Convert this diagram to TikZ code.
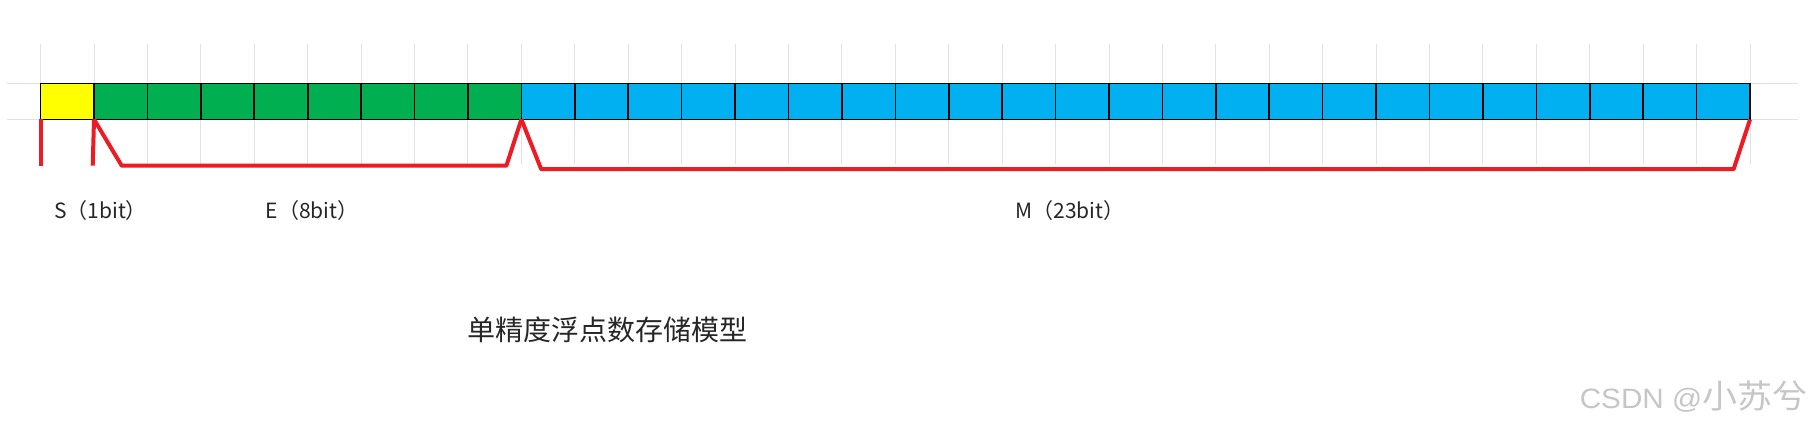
\documentclass[tikz,border=0pt]{standalone}
\usepackage{fontspec}
\setmainfont{Noto Sans CJK SC}
\newfontfamily\wmfont{Liberation Sans}
\definecolor{signyellow}{HTML}{FFFF00}
\definecolor{expgreen}{HTML}{00B050}
\definecolor{manblue}{HTML}{00B0F0}
\definecolor{bracered}{HTML}{ED1C24}
\definecolor{gridgray}{HTML}{E2E2E2}
\tikzset{
  bitcell/.style={draw=black, line width=1.6pt, minimum width=53.42pt,
    minimum height=36pt, inner sep=0pt, outer sep=0pt},
  gridline/.style={draw=gridgray, line width=1pt},
  brace/.style={draw=bracered, line width=4pt, line join=round},
  bitlabel/.style={inner sep=0pt, font=\fontsize{21}{25}\selectfont, text=black!85}
}

\begin{document}
\begin{tikzpicture}[x=1pt, y=-1pt]
\useasboundingbox (0,0) rectangle (1817,432);

% light grid behind the word
\foreach \k in {0,...,32}
  \draw[gridline] ({40.6+\k*53.42},44) -- ({40.6+\k*53.42},164);
\draw[gridline] (7,83.4) -- (1798,83.4) (7,119.4) -- (1798,119.4);

% the 32 bits
\node[bitcell, fill=signyellow] (b1) at (67.31,101.4) {};
\foreach \i in {2,...,9}
  \node[bitcell, fill=expgreen] (b\i) at ({40.6+(\i-0.5)*53.42},101.4) {};
\foreach \i in {10,...,32}
  \node[bitcell, fill=manblue] (b\i) at ({40.6+(\i-0.5)*53.42},101.4) {};

% red brackets
\coordinate (sFoot) at (40.6,165.7);
\coordinate (eFoot) at (92.7,165.7);
\coordinate (eL) at (121.7,165.7);
\coordinate (eR) at (506.4,165.7);
\coordinate (mL) at (541.2,169.2);
\coordinate (mR) at (1733.6,169.2);

\draw[brace] (b1.south west) -- (sFoot);
\draw[brace] (b2.south west) -- (eFoot);
\draw[brace] (b2.south west) -- (eL) -- (eR) -- (b10.south west);
\draw[brace] (b10.south west) -- (mL) -- (mR) -- (b32.south east);

% field names
\node[bitlabel] (sLabel) at (100.5,211) {S（1bit）};
\node[bitlabel] (eLabel) at (312,211) {E（8bit）};
\node[bitlabel] (mLabel) at (1070,211) {M（23bit）};

\node[bitlabel, font=\fontsize{28}{32}\selectfont] (title) at (607.5,330) {单精度浮点数存储模型};

%\node at (1695,410) {watermark};
\node[inner sep=0pt, text=gray!45, xscale=1.06, transform shape] (csdn) at (1693.5,397)
  {{\wmfont\fontsize{28}{32}\selectfont CSDN @}{\fontsize{33}{36}\selectfont 小苏兮}};

\end{tikzpicture}
\end{document}
